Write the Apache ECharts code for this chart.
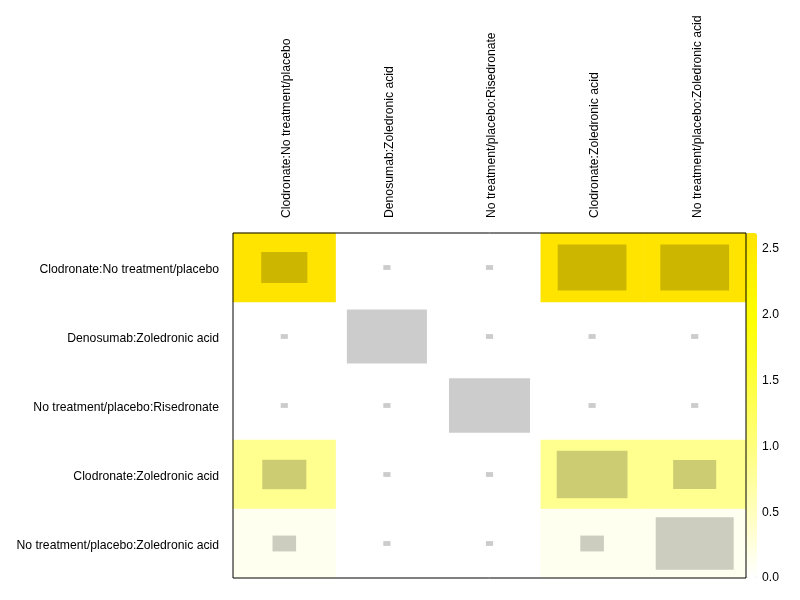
<!DOCTYPE html>
<html>
<head>
<meta charset="utf-8">
<script src="https://cdn.jsdelivr.net/npm/echarts@6/dist/echarts.min.js"></script>
<style>html,body{margin:0;padding:0;background:#fff}#c{width:800px;height:600px}</style>
</head>
<body>
<div id="c"></div>
<script>
var rowLabels = ['Clodronate:No treatment/placebo','Denosumab:Zoledronic acid','No treatment/placebo:Risedronate','Clodronate:Zoledronic acid','No treatment/placebo:Zoledronic acid'];
var colLabels = ['Clodronate:No treatment/placebo','Denosumab:Zoledronic acid','No treatment/placebo:Risedronate','Clodronate:Zoledronic acid','No treatment/placebo:Zoledronic acid'];
// heat value per cell (row-major), null = empty (white)
var heatRow0 = [2.62, null, null, 2.62, 2.62];
var heatRow1 = [null, null, null, null, null];
var heatRow2 = [null, null, null, null, null];
var heatRow3 = [0.86, null, null, 0.86, 0.86];
var heatRow4 = [0.12, null, null, 0.12, 0.12];
// relative size of grey squares (fraction of cell)
var sizeRow0 = [0.45, 0.07, 0.07, 0.67, 0.67];
var sizeRow1 = [0.07, 0.78, 0.07, 0.07, 0.07];
var sizeRow2 = [0.07, 0.07, 0.79, 0.07, 0.07];
var sizeRow3 = [0.43, 0.07, 0.07, 0.69, 0.42];
var sizeRow4 = [0.23, 0.07, 0.07, 0.23, 0.76];
var colorTicks = [0, 0.5, 1.0, 1.5, 2.0, 2.5];
var colorMax = 2.62;

var heatRows = [heatRow0, heatRow1, heatRow2, heatRow3, heatRow4];
var sizeRows = [sizeRow0, sizeRow1, sizeRow2, sizeRow3, sizeRow4];
var heatData = [], sizeData = [];
heatRows.forEach(function(r, i){ r.forEach(function(v, j){ heatData.push([j, i, v == null ? '-' : v]); }); });
sizeRows.forEach(function(r, i){ r.forEach(function(v, j){ sizeData.push([j, i, v]); }); });

var FONT = 'Liberation Sans, Arial, sans-serif';
var chart = echarts.init(document.getElementById('c'), null, {renderer: 'canvas'});
chart.setOption({
  backgroundColor: '#fff',
  animation: false,
  grid: [
    {left: 233, top: 233, width: 513, height: 345, show: true, borderColor: '#000', borderWidth: 1, backgroundColor: 'transparent', z: 10},
    {left: 746, top: 233, width: 11, height: 345, show: false}
  ],
  xAxis: [
    {type: 'category', gridIndex: 0, data: colLabels, position: 'top',
     axisLine: {show: false}, axisTick: {show: false}, splitLine: {show: false},
     axisLabel: {rotate: -90, margin: 15, fontSize: 12.2, color: '#000', fontFamily: FONT, interval: 0,
       formatter: function(v){ return '{a|' + v + '}'; },
       rich: {a: {fontSize: 12.2, fontFamily: FONT, color: '#000', padding: [5, 0, 0, 0]}}}},
    {type: 'category', gridIndex: 1, data: ['a'], show: false}
  ],
  yAxis: [
    {type: 'category', gridIndex: 0, data: rowLabels, inverse: true,
     axisLine: {show: false}, axisTick: {show: false}, splitLine: {show: false},
     axisLabel: {margin: 14, fontSize: 12.2, color: '#000', fontFamily: FONT, interval: 0,
       formatter: function(v){ return '{a|' + v + '}'; },
       rich: {a: {fontSize: 12.2, fontFamily: FONT, color: '#000', padding: [5, 0, 0, 0]}}}},
    {type: 'value', gridIndex: 1, min: 0, max: colorMax, interval: 0.5, position: 'right',
     axisLine: {show: false}, axisTick: {show: false}, splitLine: {show: false},
     axisLabel: {margin: 5, fontSize: 12.2, color: '#000', fontFamily: FONT, showMaxLabel: false,
       formatter: function(v){ return colorTicks.indexOf(Math.round(v*10)/10) >= 0 ? v.toFixed(1) : ''; }}}
  ],
  visualMap: {
    type: 'continuous', min: 0, max: colorMax, seriesIndex: 0,
    left: 746, top: 233, itemWidth: 11, itemHeight: 345, padding: 0,
    calculable: false, showLabel: false, text: null,
    inRange: {color: ['#FFFFFF', '#FFFFAA', '#FFFF55', '#FFFF00', '#FFE400']}
  },
  series: [
    {type: 'heatmap', xAxisIndex: 0, yAxisIndex: 0, data: heatData, emphasis: {disabled: true}, itemStyle: {borderWidth: 0}},
    {type: 'custom', xAxisIndex: 0, yAxisIndex: 0, data: sizeData, z: 5,
     renderItem: function(params, api){
       var c = api.coord([api.value(0), api.value(1)]);
       var s = api.size([1, 1]);
       var f = api.value(2);
       var w = s[0]*f, h = s[1]*f;
       return {type: 'rect', shape: {x: c[0]-w/2, y: c[1]-h/2, width: w, height: h},
               style: {fill: 'rgba(0,0,0,0.2)'}};
     }},
    {type: 'line', xAxisIndex: 1, yAxisIndex: 1, data: [], silent: true}
  ]
});
</script>
</body>
</html>
